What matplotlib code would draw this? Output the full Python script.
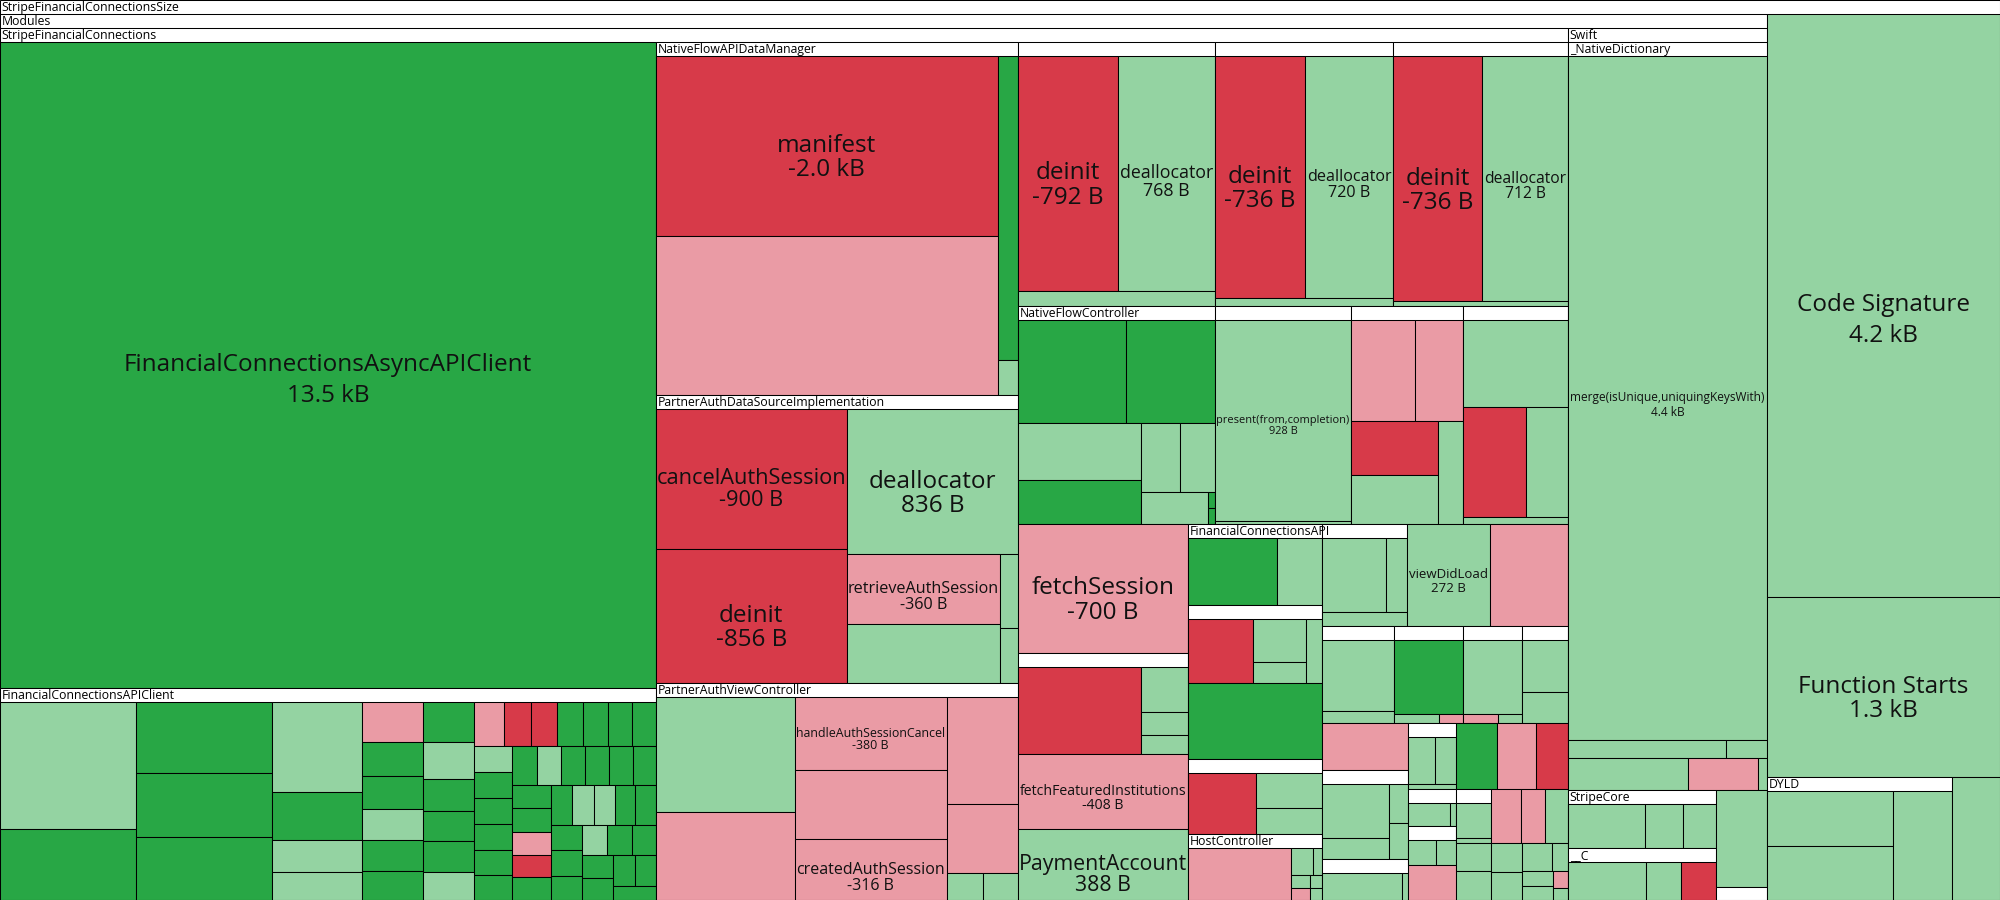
"""
Size diff treemap: StripeFinancialConnectionsSize
squarified layout (d3 style, golden ratio), headers on group boxes
"""
import matplotlib
matplotlib.use('Agg')
import matplotlib.pyplot as plt
from matplotlib.patches import Rectangle
from matplotlib.textpath import TextPath
from matplotlib.font_manager import FontProperties

W, H = 2000, 900
DPI = 100
HEAD = 14
PHI = (1 + 5 ** 0.5) / 2
FONT = 'Open Sans'
LABEL_MAX = 17.5
HEAD_FS = 8.8
LW = 0.75

# G added, g grown, R removed, r shrunk
COLORS = {'G': '#28a745', 'g': '#94d3a2', 'R': '#d73a49', 'r': '#ea9ba5'}

# ---------------- data (bytes of change) ----------------
async_size = 13540

api_client_sizes = [589, 333, 333, 298, 292, 273, 148, 97, 86,
                    83, 72, 69, 64, 64, 61, 69, 65, 56, 53, 53, 49,
                    45, 40, 40, 38, 37, 36, 36, 35, 35, 34, 34, 34, 33, 33, 33, 32, 32, 32, 31, 31,
                    31, 30, 30, 30, 29, 29, 29, 28, 28, 27, 27, 26, 26, 25, 25, 24, 24, 23, 22, 20]
api_client_kinds = 'gGGGGgGgg' + 'rGGgGGGgGGGg' + 'rRRGGGGgGGGGGGgGGGGG' + 'GrRGGggGGGGGgGGGGGGG'

data_manager_sizes = [2043, 1811, 206, 24]
data_manager_kinds = 'RrGg'
data_manager_names = ['manifest']

auth_source_sizes = [900, 856, 836, 360, 300, 45, 33]
auth_source_kinds = 'RRgrggg'
auth_source_names = ['cancelAuthSession', 'deinit', 'deallocator', 'retrieveAuthSession']

auth_view_sizes = [547, 419, 380, 358, 316, 262, 168, 34, 32]
auth_view_kinds = 'grrrrrrgg'
auth_view_names = ['', '', 'handleAuthSessionCancel', '', 'createdAuthSession']

life_names = ['deinit', 'deallocator']
life_a_sizes = [792, 768, 100]
life_b_sizes = [736, 720, 45]
life_c_sizes = [736, 712, 26]
life_kinds = 'Rgg'

flow_ctrl_sizes = [382, 319, 236, 186, 90, 83, 74, 4, 4]
flow_ctrl_kinds = 'GGgGgggGG'
present_sizes = [928, 15]
present_names = ['present(from,completion)']
flow_c_sizes = [221, 165, 161, 146, 88]
flow_c_kinds = 'rrRgg'
flow_d_sizes = [317, 235, 159, 26]
flow_d_kinds = 'gRgg'

session_sizes = [395, 80, 41, 32]
session_kinds = 'Rggg'

api_top_sizes = [199, 101]
api_top_kinds = 'Gg'
api_sub1_sizes = [172, 93, 47, 42]
api_sub1_kinds = 'Rggg'
api_mid_size = 339
api_sub2_sizes = [172, 95, 70]
api_sub2_kinds = 'Rgg'

host_sizes = [218, 24, 10, 10, 9, 6, 6]
host_kinds = 'rgggrgg'

c1_sizes = [177, 56, 43]
d1_sizes = [191, 32]
d2_sizes = [188, 15, 8]
d2_kinds = 'Ggr'
d3_sizes = [162, 12, 8]
d3_kinds = 'grg'
d4_sizes = [91, 53]
e1_sizes = [136, 54, 28, 26]
e2_sizes = [103, 8]
e3_sizes = [52, 40, 10]
f1_sizes = [50, 7]
f2_sizes = [35, 24]
f3_sizes = [53, 7]
rest_sizes = [30, 28, 27, 15, 14, 14, 8, 6]
rest_kinds = 'ggggggrg'

merge_sizes = [4440, 95, 25]
swift_rest_sizes = [123, 72, 9]
swift_rest_kinds = 'grg'

core_top_sizes = [121, 60, 52]
core_c_sizes = [146, 66, 64]
core_c_kinds = 'ggR'

dyld_sizes = [242, 237, 223]
root_leaf_sizes = [4200, 1300]
root_leaf_names = ['Code Signature', 'Function Starts']


def cells(sizes, kinds, names=()):
    if len(kinds) == 1:
        kinds = kinds * len(sizes)
    assert len(sizes) == len(kinds)
    names = list(names) + [''] * (len(sizes) - len(names))
    return [{'name': n, 'size': s, 'kind': k} for s, k, n in zip(sizes, kinds, names)]


def group(name, children, rows=None, head=True):
    return {'name': name, 'children': children, 'rows': rows, 'head': head}


sfc = group('StripeFinancialConnections',
            cells([async_size], 'G', ['FinancialConnectionsAsyncAPIClient'])
            + [group('FinancialConnectionsAPIClient', cells(api_client_sizes, api_client_kinds)),
               group('NativeFlowAPIDataManager', cells(data_manager_sizes, data_manager_kinds, data_manager_names)),
               group('PartnerAuthDataSourceImplementation', cells(auth_source_sizes, auth_source_kinds, auth_source_names)),
               group('PartnerAuthViewController', cells(auth_view_sizes, auth_view_kinds, auth_view_names)),
               group('', cells(life_a_sizes, life_kinds, life_names)),
               group('', cells(life_b_sizes, life_kinds, life_names)),
               group('', cells(life_c_sizes, life_kinds, life_names)),
               group('NativeFlowController', cells(flow_ctrl_sizes, flow_ctrl_kinds)),
               group('', cells(present_sizes, 'g', present_names)),
               group('', cells(flow_c_sizes, flow_c_kinds)),
               group('', cells(flow_d_sizes, flow_d_kinds))]
            + cells([700], 'r', ['fetchSession'])
            + [group('', cells(session_sizes, session_kinds))]
            + cells([408, 388], 'rg', ['fetchFeaturedInstitutions', 'PaymentAccount'])
            + [group('FinancialConnectionsAPI',
                     cells(api_top_sizes, api_top_kinds)
                     + [group('', cells(api_sub1_sizes, api_sub1_kinds))]
                     + cells([api_mid_size], 'G')
                     + [group('', cells(api_sub2_sizes, api_sub2_kinds))],
                     rows=[2, 1, 1, 1]),
               group('HostController', cells(host_sizes, host_kinds)),
               group('', cells(c1_sizes, 'g'))]
            + cells([272, 256], 'gr', ['viewDidLoad'])
            + [group('', cells(d1_sizes, 'g')), group('', cells(d2_sizes, d2_kinds)),
               group('', cells(d3_sizes, d3_kinds)), group('', cells(d4_sizes, 'g'))]
            + cells([130], 'r')
            + [group('', cells(e1_sizes, 'g')), group('', cells(e2_sizes, 'g')),
               group('', cells(e3_sizes, 'g'))]
            + cells([88, 82, 69], 'GrR')
            + [group('', cells(f1_sizes, 'g')), group('', cells(f2_sizes, 'g'))]
            + cells([54], 'r')
            + [group('', cells(f3_sizes, 'g'))]
            + cells([32, 32, 52, 40, 40], 'ggrrg')
            + cells(rest_sizes, rest_kinds),
            rows=[2, 3, 3, 4, 4, 2, 3, 4, 3, 4, 3, 3, 3])

swift = group('Swift', [group('_NativeDictionary', cells(merge_sizes, 'g', ['merge(isUnique,uniquingKeysWith)']))]
              + cells(swift_rest_sizes, swift_rest_kinds))

core = group('StripeCore', [group('', cells(core_top_sizes, 'g'), head=False),
                            group('__C', cells(core_c_sizes, core_c_kinds))], rows=[2])

modules = group('Modules', [sfc, swift, core] + cells([157], 'g') + [group('', cells([21], 'g'))])

root = group('StripeFinancialConnectionsSize',
             [modules] + cells(root_leaf_sizes, 'g', root_leaf_names)
             + [group('DYLD', cells(dyld_sizes, 'g'))] + cells([184], 'g'))


# ---------------- layout ----------------
def total(node):
    if 'children' in node:
        node['value'] = sum(total(c) for c in node['children'])
    else:
        node['value'] = node['size']
    return node['value']


def squarify(nodes, x0, y0, x1, y1, rows=None):
    out = []
    value = sum(c['value'] for c in nodes)
    rows = list(rows or [])
    i0, n = 0, len(nodes)
    while i0 < n:
        dx, dy = x1 - x0, y1 - y0
        if dx <= 0 or dy <= 0:
            break
        if rows:
            i1 = min(n, i0 + rows.pop(0))
        else:
            s = nodes[i0]['value']
            mn = mx = s
            alpha = max(dy / dx, dx / dy) / (value * PHI)
            beta = s * s * alpha
            best = max(mx / beta, beta / mn)
            i1 = i0 + 1
            while i1 < n:
                v = nodes[i1]['value']
                s2, mn2, mx2 = s + v, min(mn, v), max(mx, v)
                beta = s2 * s2 * alpha
                r = max(mx2 / beta, beta / mn2)
                if r > best:
                    break
                s, mn, mx, best = s2, mn2, mx2, r
                i1 += 1
        row = nodes[i0:i1]
        s = sum(c['value'] for c in row)
        if dx < dy:
            h = dy * s / value
            xx = x0
            for c in row:
                w = dx * c['value'] / s
                out.append((c, xx, y0, xx + w, y0 + h))
                xx += w
            y0 += h
        else:
            w = dx * s / value
            yy = y0
            for c in row:
                h = dy * c['value'] / s
                out.append((c, x0, yy, x0 + w, yy + h))
                yy += h
            x0 += w
        value -= s
        i0 = i1
    return out


fp = FontProperties(family=FONT)


def text_w(s, size):
    return TextPath((0, 0), s, size=size, prop=fp).get_extents().width * DPI / 72


def fmt(size, kind):
    sign = '-' if kind in 'Rr' else ''
    if size >= 1000:
        return f'{sign}{size / 1000:.1f} kB'
    return f'{sign}{size} B'


fig = plt.figure(figsize=(W / DPI, H / DPI), dpi=DPI)
ax = fig.add_axes([0, 0, 1, 1])
ax.set_xlim(0, W)
ax.set_ylim(H, 0)
ax.axis('off')


def draw(node, x0, y0, x1, y1):
    w, h = x1 - x0, y1 - y0
    if 'children' in node:
        ax.add_patch(Rectangle((x0, y0), w, h, fc='white', ec='black', lw=LW))
        top = y0 + (HEAD if node['head'] else 0)
        if node['head'] and node['name']:
            t = ax.text(x0 + 1.5, y0 + HEAD / 2 + 0.5, node['name'], fontsize=HEAD_FS, family=FONT,
                        ha='left', va='center', color='#000000')
            t.set_clip_path(Rectangle((x0, y0), w, min(HEAD, h), transform=ax.transData))
        if y1 - top > 0.5:
            for c, a, b, cc, d in squarify(node['children'], x0, top, x1, y1, node['rows']):
                draw(c, a, b, cc, d)
        return
    ax.add_patch(Rectangle((x0, y0), w, h, fc=COLORS[node['kind']], ec='black', lw=LW))
    if not node['name']:
        return
    lines = [node['name'], fmt(node['size'], node['kind'])]
    fs = LABEL_MAX
    need = max(text_w(s, fs) for s in lines)
    if need > w - 5:
        fs *= (w - 5) / need
    if fs < 5:
        return
    px = fs * DPI / 72
    gap = px * (1.25 if h > 400 else 1.0)
    cx, cy = (x0 + x1) / 2, (y0 + y1) / 2 - 0.12 * px
    for i, s in enumerate(lines):
        ax.text(cx, cy + i * gap, s, fontsize=fs, family=FONT, ha='center',
                va='center_baseline', color='#111111')


total(root)
draw(root, 0, 0, W, H)

fig.savefig('out.png', dpi=DPI)
print('Finished')
